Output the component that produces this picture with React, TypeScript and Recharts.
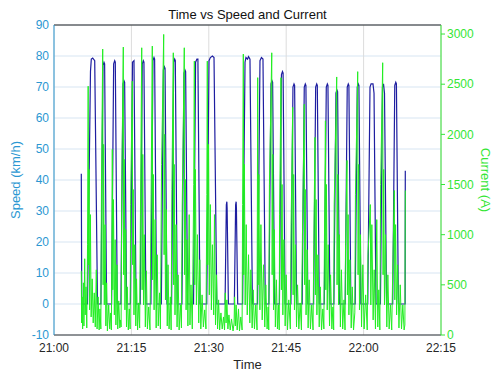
import {
  LineChart, Line, XAxis, YAxis, CartesianGrid, ReferenceLine,
} from 'recharts'

// minutes after 21:00
const timeTicks = [0, 15, 30, 45, 60, 75]
const timeLabels = ['21:00', '21:15', '21:30', '21:45', '22:00', '22:15']
const speedTicks = [-10, 0, 10, 20, 30, 40, 50, 60, 70, 80, 90]
const currentTicks = [0, 500, 1000, 1500, 2000, 2500, 3000]

// [minute, km/h]
const speedPts: [number, number][] = [
  [5.29, 42], [5.38, 0],
  [6.49, 0], [7.07, 75], [7.23, 79], [7.5, 79.3], [7.89, 78.5], [8.43, 0],
  [9.09, 0], [9.49, 77], [9.69, 78], [9.81, 77.5], [10.19, 0],
  [11.16, 0], [11.56, 77.5], [11.76, 78.5], [11.88, 78], [12.26, 0],
  [12.97, 0], [13.37, 71], [13.57, 72], [13.69, 71.5], [14.07, 0],
  [14.81, 0], [15.21, 78], [15.5, 78.5], [15.9, 0],
  [16.71, 0], [17.11, 77.5], [17.31, 78.5], [17.43, 78], [17.81, 0],
  [18.78, 0], [19.18, 78.5], [19.38, 79.5], [19.5, 79], [19.88, 0],
  [20.8, 0], [21.2, 75.5], [21.4, 76.5], [21.52, 76], [21.9, 0],
  [22.79, 0], [23.19, 78], [23.39, 79], [23.51, 78.5], [23.89, 0],
  [24.79, 0], [25.19, 74.5], [25.39, 75.5], [25.51, 75], [25.89, 0],
  [27.04, 0], [27.44, 78], [27.7, 79], [27.89, 79], [28.29, 0],
  [29.6, 0], [30.04, 78.5], [30.3, 79.5], [30.7, 80], [31.01, 79.5], [31.55, 0],
  [33.15, 0], [33.4, 32], [33.5, 33], [33.55, 31], [33.8, 0],
  [34.95, 0], [35.2, 32], [35.3, 33], [35.35, 31], [35.6, 0],
  [36.55, 0], [37.02, 78], [37.2, 79.5], [37.5, 79], [37.7, 79.8], [37.98, 79], [38.45, 0],
  [39.45, 0], [39.92, 78.5], [40.2, 79.5], [40.5, 79], [40.95, 0],
  [41.65, 0], [42.05, 71], [42.25, 72], [42.37, 71.5], [42.75, 0],
  [43.68, 0], [44.08, 74], [44.28, 75], [44.4, 74.5], [44.78, 0],
  [45.91, 0], [46.31, 70], [46.51, 71], [46.63, 70.5], [47.01, 0],
  [48.1, 0], [48.5, 70], [48.7, 71], [48.82, 70.5], [49.2, 0],
  [50.31, 0], [50.71, 70], [50.91, 71], [51.03, 70.5], [51.41, 0],
  [52.37, 0], [52.77, 70], [52.97, 71], [53.09, 70.5], [53.47, 0],
  [54.24, 0], [54.64, 68], [54.84, 69], [54.96, 68.5], [55.34, 0],
  [56.43, 0], [56.83, 70], [57.03, 71], [57.15, 70.5], [57.53, 0],
  [58.37, 0], [58.77, 70], [58.97, 71], [59.09, 70.5], [59.47, 0],
  [60.8, 0], [61.24, 70], [61.45, 71], [61.82, 71], [62.02, 68], [62.4, 0],
  [63.26, 0], [63.66, 70], [63.86, 71], [64.05, 68], [64.45, 0],
  [65.64, 0], [66.04, 70.5], [66.24, 71.5], [66.36, 71], [66.74, 0],
  [68.05, 0], [68.08, 43],
]

// [minute, A]
const currentPts: [number, number][] = [
  [5.29, 640], [5.35, 120], [5.45, 380], [5.55, 60], [5.7, 520], [5.8, 90], [5.95, 760], [6.05, 200], [6.2, 480], [6.35, 70],
  [6.5, 900], [6.62, 2480], [6.7, 700], [6.8, 1650], [6.9, 250], [7.05, 1200], [7.2, 180], [7.4, 560], [7.6, 120], [7.8, 420], [8.0, 80], [8.2, 650], [8.35, 60], [8.55, 380], [8.75, 50], [8.9, 260],
  [9.08, 60], [9.2, 1500], [9.44, 2850], [9.52, 500], [9.62, 1900], [9.75, 300], [9.9, 1100], [10.05, 90], [10.2, 520], [10.35, 40], [10.6, 300], [10.8, 60], [11.0, 220],
  [11.12, 50], [11.3, 1850], [11.4, 450], [11.52, 1350], [11.7, 200], [11.85, 950], [12.0, 100], [12.2, 700], [12.35, 60], [12.55, 340], [12.75, 70], [12.9, 150],
  [13.0, 80], [13.15, 1600], [13.43, 2870], [13.5, 600], [13.6, 1750], [13.75, 250], [13.9, 1050], [14.05, 80], [14.2, 480], [14.4, 50], [14.6, 260], [14.75, 60],
  [14.85, 1300], [15.17, 2530], [15.25, 700], [15.35, 1450], [15.5, 200], [15.65, 900], [15.85, 90], [16.0, 560], [16.2, 50], [16.4, 320], [16.6, 70],
  [16.75, 1200], [17.0, 2863], [17.08, 450], [17.2, 1800], [17.35, 300], [17.5, 1000], [17.7, 80], [17.9, 640], [18.1, 60], [18.35, 280], [18.6, 50],
  [18.82, 1400], [19.05, 2880], [19.12, 550], [19.25, 1600], [19.4, 250], [19.6, 1150], [19.8, 70], [20.0, 800], [20.2, 90], [20.45, 420], [20.62, 60],
  [20.85, 1700], [21.26, 2996], [21.34, 800], [21.45, 2000], [21.6, 350], [21.75, 1250], [21.95, 90], [22.1, 700], [22.3, 60], [22.55, 380], [22.7, 50],
  [22.85, 1450], [23.12, 2813], [23.2, 500], [23.3, 1700], [23.45, 200], [23.65, 1100], [23.85, 80], [24.05, 600], [24.25, 50], [24.5, 300], [24.7, 70],
  [24.85, 1300], [25.25, 2863], [25.32, 600], [25.45, 1550], [25.6, 250], [25.75, 950], [25.95, 90], [26.2, 1200], [26.35, 100], [26.55, 500], [26.8, 60],
  [27.08, 1500], [27.2, 2730], [27.28, 500], [27.4, 1650], [27.6, 300], [27.8, 1000], [28.05, 120], [28.25, 750], [28.45, 60], [28.7, 400], [28.95, 80], [29.2, 250], [29.45, 60],
  [29.62, 1400], [29.71, 2730], [29.8, 700], [29.95, 1900], [30.1, 400], [30.3, 1300], [30.5, 250], [30.7, 900], [30.95, 200], [31.1, 1200], [31.3, 100], [31.5, 600], [31.7, 60], [31.9, 350], [32.1, 50], [32.35, 220], [32.6, 60], [32.85, 180], [33.05, 50],
  [33.2, 420], [33.35, 120], [33.5, 350], [33.7, 60], [33.9, 200], [34.15, 50], [34.4, 160], [34.7, 40], [34.9, 120],
  [35.0, 380], [35.15, 90], [35.3, 300], [35.5, 50], [35.75, 260], [35.95, 40], [36.2, 180], [36.45, 50],
  [36.55, 1300], [36.69, 2800], [36.78, 600], [36.9, 1700], [37.05, 300], [37.25, 1100], [37.45, 200], [37.7, 800], [37.95, 120], [38.15, 650], [38.4, 70], [38.6, 450], [38.85, 60], [39.1, 300], [39.35, 50],
  [39.48, 2565], [39.56, 500], [39.7, 1600], [39.9, 250], [40.1, 1100], [40.35, 150], [40.6, 700], [40.85, 80], [41.05, 500], [41.3, 60], [41.5, 280], [41.62, 50],
  [41.75, 1500], [42.2, 2813], [42.28, 600], [42.4, 1800], [42.55, 250], [42.7, 1050], [42.9, 80], [43.1, 550], [43.3, 60], [43.5, 300], [43.65, 50],
  [43.72, 1200], [43.99, 2565], [44.07, 450], [44.2, 1500], [44.35, 200], [44.55, 950], [44.8, 90], [45.0, 600], [45.25, 50], [45.5, 350], [45.8, 60],
  [45.95, 1100], [46.26, 2270], [46.34, 400], [46.45, 1600], [46.6, 250], [46.8, 900], [47.0, 80], [47.2, 500], [47.45, 60], [47.7, 320], [47.95, 50],
  [48.15, 1000], [48.5, 2300], [48.58, 500], [48.7, 1450], [48.85, 200], [49.05, 850], [49.25, 70], [49.45, 550], [49.7, 60], [49.95, 300], [50.2, 50],
  [50.35, 900], [50.58, 1970], [50.66, 400], [50.8, 1350], [50.95, 200], [51.15, 800], [51.4, 80], [51.6, 480], [51.85, 50], [52.1, 260], [52.3, 60],
  [52.42, 1000], [52.6, 2135], [52.68, 450], [52.8, 1500], [52.95, 250], [53.15, 900], [53.4, 90], [53.6, 600], [53.85, 60], [54.05, 280], [54.2, 50],
  [54.3, 1300], [54.79, 2572], [54.86, 500], [55.0, 1600], [55.15, 300], [55.3, 1000], [55.5, 80], [55.7, 650], [55.95, 60], [56.2, 350], [56.4, 50],
  [56.5, 900], [56.78, 1740], [56.86, 400], [57.0, 1200], [57.15, 200], [57.35, 750], [57.6, 70], [57.8, 480], [58.05, 50], [58.3, 220],
  [58.42, 1400], [58.86, 2625], [58.93, 600], [59.05, 1700], [59.2, 250], [59.4, 1000], [59.6, 80], [59.85, 700], [60.1, 60], [60.4, 400], [60.7, 50],
  [60.85, 800], [61.3, 1300], [61.4, 300], [61.6, 1100], [61.85, 150], [62.05, 650], [62.3, 60], [62.55, 1150], [62.75, 80], [62.95, 450], [63.15, 50],
  [63.3, 1500], [63.7, 2714], [63.78, 600], [63.9, 1650], [64.05, 300], [64.25, 1000], [64.5, 80], [64.7, 600], [64.95, 60], [65.2, 300], [65.45, 50],
  [65.7, 800], [65.95, 1440], [66.05, 350], [66.2, 1100], [66.4, 200], [66.6, 700], [66.85, 70], [67.1, 500], [67.35, 60], [67.6, 300], [67.85, 50],
  [68.0, 100], [68.08, 1440],
]

const speedData = speedPts.map(([t, v]) => ({ t, speed: v }))
const currentData = currentPts.map(([t, v]) => ({ t, current: v }))

const FONT = '"Liberation Sans", Arial, Helvetica, sans-serif'
const BLUE_AXIS = '#2b97d2'
const GREEN_AXIS = '#35e635'

export default function App() {
  return (
    <div style={{ position: 'absolute', left: 0, top: 0, width: 496, height: 372, background: '#fff', fontFamily: FONT }}>
      <LineChart width={496} height={372} margin={{ top: 25, right: 0, bottom: 0, left: 0 }}>
        <CartesianGrid yAxisId="left" vertical={false} stroke="#d7e5f2" strokeWidth={1} />
        <CartesianGrid yAxisId="left" horizontal={false} stroke="#dcdcdc" strokeWidth={1} />
        <XAxis
          dataKey="t" type="number" domain={[0, 75]} ticks={timeTicks}
          tickFormatter={(v: number) => timeLabels[timeTicks.indexOf(v)]}
          height={37} stroke="#333" tickLine={false} tickSize={6} tickMargin={2}
          tick={{ fontSize: 12, fill: '#262626', fontFamily: FONT }}
          label={{ value: 'Time', position: 'insideBottom', offset: 3, style: { fontSize: 13, fill: '#262626', fontFamily: FONT } }}
          allowDataOverflow
        />
        <YAxis
          yAxisId="left" type="number" domain={[-10, 90]} ticks={speedTicks} width={54}
          stroke={BLUE_AXIS} tickLine={false} tickSize={3} tickMargin={2}
          tick={{ fontSize: 12, fill: BLUE_AXIS, fontFamily: FONT }}
          label={{ value: 'Speed (km/h)', angle: -90, position: 'insideLeft', offset: 15, style: { fontSize: 13, fill: BLUE_AXIS, fontFamily: FONT, textAnchor: 'middle' } }}
        />
        <YAxis
          yAxisId="right" orientation="right" type="number" domain={[0, 3090]} ticks={currentTicks} width={55}
          stroke={GREEN_AXIS} tickSize={4} tickMargin={2}
          tick={{ fontSize: 12, fill: GREEN_AXIS, fontFamily: FONT }}
          label={{ value: 'Current (A)', angle: 90, position: 'insideRight', offset: 10, style: { fontSize: 13, fill: GREEN_AXIS, fontFamily: FONT, textAnchor: 'middle' } }}
        />
        <ReferenceLine yAxisId="left" y={90} stroke="#222" strokeWidth={1} />
        <Line
          yAxisId="left" data={speedData} dataKey="speed" type="linear"
          stroke="#1e1ea0" strokeWidth={1.2} dot={false} isAnimationActive={false}
        />
        <Line
          yAxisId="right" data={currentData} dataKey="current" type="linear"
          stroke="#22ee22" strokeWidth={1} dot={false} isAnimationActive={false}
        />
      </LineChart>
      <div style={{ position: 'absolute', left: 54, width: 387, top: 7, textAlign: 'center', fontSize: 13, color: '#111' }}>
        Time vs Speed and Current
      </div>
    </div>
  )
}
